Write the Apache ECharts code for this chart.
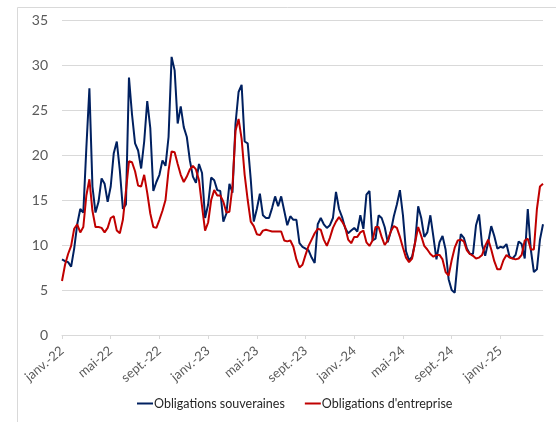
<!DOCTYPE html>
<html><head><meta charset="utf-8">
<script src="https://cdn.jsdelivr.net/npm/echarts@6/dist/echarts.min.js"></script>
<style>html,body{margin:0;padding:0;background:#fff}#c{width:556px;height:422px}</style>
</head><body><div id="c"></div>
<script>
// x-axis tick labels, one every 4 months starting Jan 2022
const tickLabels = ['janv.-22','mai-22','sept.-22','janv.-23','mai-23','sept.-23','janv.-24','mai-24','sept.-24','janv.-25'];
// roughly weekly observations (4 per month) from Jan 2022 to mid-Apr 2025
const stepsPerMonth = 4;
const souveraines = [
8.4,8.2,8.1,7.6,9.6,12.3,14.0,13.6,20.8,27.4,16.5,13.6,14.8,17.4,16.8,14.8,16.5,20.2,21.5,18.3,
14.0,14.5,28.6,24.5,21.3,20.5,18.5,21.5,26.0,23.0,16.0,17.0,17.8,19.4,18.8,22.0,30.9,29.4,23.5,25.4,
23.1,22.0,19.4,17.6,16.9,19.0,18.0,13.0,14.5,17.5,17.2,16.1,16.0,12.6,13.5,16.8,15.8,23.5,27.0,27.8,
21.5,21.3,17.3,12.6,14.0,15.7,13.3,13.0,13.0,14.1,15.4,14.3,15.4,13.8,12.2,13.2,12.8,12.8,10.2,9.8,
9.6,9.4,8.6,8.0,12.3,13.0,12.3,11.9,12.2,13.0,15.9,14.0,13.1,11.9,11.3,11.6,11.9,11.5,13.3,11.8,
15.6,16.0,10.5,10.7,13.3,13.0,12.0,10.3,11.5,13.2,14.5,16.1,13.3,9.3,8.3,8.7,10.3,14.3,13.0,10.9,
11.4,13.3,10.9,8.4,10.3,11.0,9.5,6.2,5.0,4.7,8.3,11.2,10.8,9.6,9.0,9.0,12.2,13.4,10.0,8.8,
10.3,12.1,11.0,9.6,9.8,9.7,10.1,8.7,8.5,8.9,10.4,10.1,8.5,14.0,9.5,7.0,7.3,10.6,12.3
];
const entreprise = [
6.0,7.8,9.0,9.9,11.8,12.3,11.4,12.0,15.5,17.3,13.8,12.0,12.0,11.9,11.4,11.9,13.0,13.2,11.6,11.3,
12.8,16.0,19.3,19.2,18.2,16.6,16.5,17.8,15.8,13.5,12.0,11.9,12.8,13.8,15.0,18.3,20.4,20.3,19.0,17.8,
17.0,17.6,18.4,18.8,18.4,17.2,14.3,11.6,12.5,15.0,16.1,15.5,15.5,14.8,13.6,13.7,16.5,22.7,24.0,21.8,
17.8,15.0,12.6,12.1,11.2,11.1,11.6,11.7,11.6,11.5,11.5,11.5,11.5,10.5,10.4,10.5,9.8,8.4,7.5,7.8,
8.9,9.9,10.6,11.3,11.8,11.7,10.6,9.9,10.8,11.9,12.6,13.1,12.6,12.0,10.6,10.2,10.9,10.9,11.4,11.6,
10.3,9.9,10.5,12.0,12.0,10.9,10.0,10.5,11.5,12.1,11.9,10.9,9.7,8.6,8.1,8.5,10.3,12.0,11.0,9.9,
9.5,9.0,8.7,8.9,8.9,8.4,7.0,6.6,8.3,9.7,10.5,10.6,10.4,9.4,9.0,8.8,8.5,8.6,8.9,9.9,
10.6,9.5,8.2,7.3,7.3,8.3,8.9,8.6,8.5,8.4,8.5,8.9,10.5,10.7,9.5,9.5,14.0,16.5,16.8
];
const seriesNames = ['Obligations souveraines', "Obligations d'entreprise"];

const toPairs = arr => arr.map((v, i) => [i / stepsPerMonth, v]);
const lastX = (souveraines.length - 1) / stepsPerMonth;
const font = 'Lato, "Open Sans", sans-serif';

const chart = echarts.init(document.getElementById('c'), null, {renderer: 'canvas'});
chart.setOption({
  animation: false,
  backgroundColor: '#fff',
  graphic: [{type: 'rect', shape: {x: 17.5, y: 7.5, width: 560, height: 430}, style: {fill: 'none', stroke: '#d9d9d9', lineWidth: 1}, silent: true}],
  grid: {left: 62, right: 13, top: 20, bottom: 87, containLabel: false},
  legend: {
    bottom: 7, left: 132, itemGap: 20, itemWidth: 16, itemHeight: 2, icon: 'rect',
    textStyle: {fontFamily: font, fontSize: 12.5, color: '#262626', padding: [0, 0, 0, -4]},
    data: seriesNames
  },
  xAxis: {
    type: 'value', min: 0, max: lastX, interval: 4,
    axisLine: {show: true, lineStyle: {color: '#d9d9d9', width: 1}},
    axisTick: {show: true, length: 4, lineStyle: {color: '#d9d9d9'}},
    splitLine: {show: false},
    axisLabel: {rotate: 40, margin: 14, fontFamily: font, fontSize: 13, color: '#595959', showMaxLabel: false,
      formatter: v => tickLabels[Math.round(v / 4)] || ''}
  },
  yAxis: {
    type: 'value', min: 0, max: 35, interval: 5,
    axisLine: {show: false}, axisTick: {show: false},
    splitLine: {lineStyle: {color: '#d9d9d9', width: 1}},
    axisLabel: {margin: 14, fontFamily: font, fontSize: 14, color: '#595959'}
  },
  series: [
    {name: seriesNames[0], type: 'line', data: toPairs(souveraines), showSymbol: false, symbol: 'none',
     lineStyle: {color: '#002060', width: 2}, itemStyle: {color: '#002060'}, z: 2},
    {name: seriesNames[1], type: 'line', data: toPairs(entreprise), showSymbol: false, symbol: 'none',
     lineStyle: {color: '#C00000', width: 2}, itemStyle: {color: '#C00000'}, z: 3}
  ]
});
</script></body></html>
